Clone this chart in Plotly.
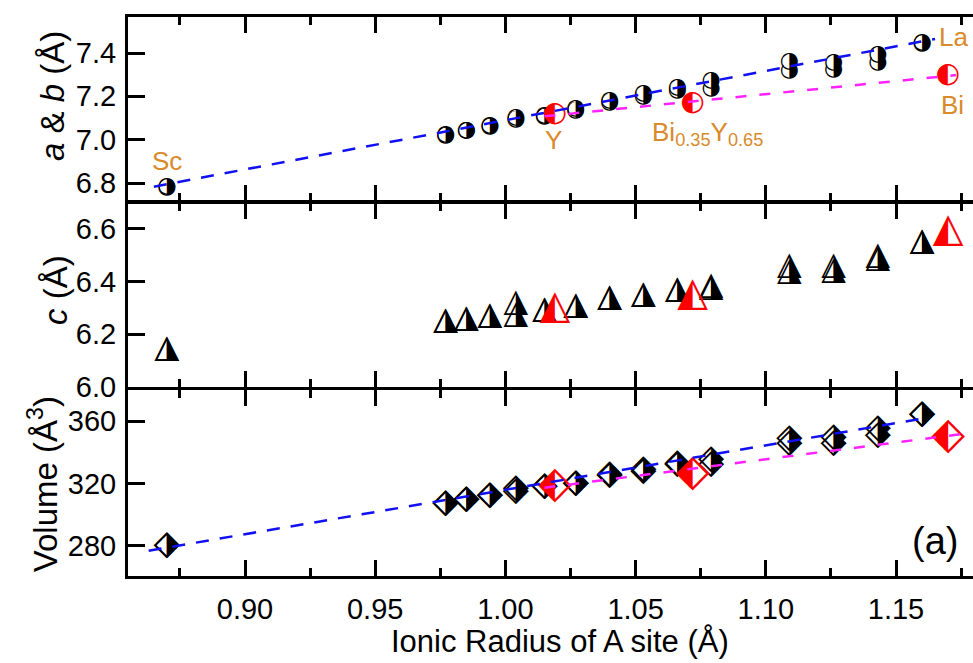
import plotly.graph_objects as go
from plotly.subplots import make_subplots

# ---------------- data ----------------
radius = [0.870, 0.977, 0.985, 0.994, 1.004, 1.015, 1.027, 1.040, 1.053, 1.066, 1.079, 1.109, 1.126, 1.143, 1.160]
a_param = [6.785, 7.023, 7.043, 7.064, 7.100, 7.110, 7.142, 7.180, 7.215, 7.240, 7.272, 7.360, 7.355, 7.395, 7.450]
b_param = [6.780, 7.020, 7.040, 7.060, 7.093, 7.106, 7.133, 7.172, 7.200, 7.226, 7.236, 7.320, 7.322, 7.355, 7.446]
c_set1 = [6.144, 6.250, 6.258, 6.268, 6.317, 6.293, 6.307, 6.336, 6.348, 6.367, 6.382, 6.459, 6.459, 6.496, 6.550]
c_set2 = [6.144, 6.250, 6.258, 6.268, 6.274, 6.293, 6.307, 6.336, 6.348, 6.367, 6.376, 6.435, 6.440, 6.484, 6.550]
vol_set1 = [280.4, 307.2, 309.4, 312.0, 316.5, 318.0, 319.8, 325.9, 328.6, 332.9, 335.0, 349.0, 349.3, 355.3, 363.9]
vol_set2 = [280.4, 307.2, 309.4, 312.0, 314.5, 318.0, 319.8, 325.0, 327.5, 332.0, 331.8, 345.7, 345.5, 351.0, 363.9]

bi_radius = [1.019, 1.0719, 1.170]
bi_ab = [7.120, 7.170, 7.298]
bi_c = [6.299, 6.348, 6.593]
bi_vol = [318.0, 325.8, 350.0]

fit_ab_x = [0.865, 1.165]
fit_ab_y = [6.783, 7.465]
fit_ab_bi_x = [1.015, 1.173]
fit_ab_bi_y = [7.108, 7.298]
fit_vol_x = [0.863, 1.160]
fit_vol_y = [276.8, 361.5]
fit_vol_bi_x = [1.015, 1.1745]
fit_vol_bi_y = [317.2, 351.5]

x_ticks = [0.90, 0.95, 1.00, 1.05, 1.10, 1.15]
ab_ticks = [6.8, 7.0, 7.2, 7.4]
c_ticks = [6.0, 6.2, 6.4, 6.6]
vol_ticks = [280, 320, 360]

labels_text = ["Sc", "La", "Y", "Bi", "Bi<sub>0.35</sub>Y<sub>0.65</sub>"]
labels_x = [0.8699, 1.1719, 1.0184, 1.1718, 1.0776]
labels_y = [6.901, 7.474, 7.000, 7.160, 7.030]

# ---------------- style ----------------
FONT = "Arial, Liberation Sans, sans-serif"
GLYPH_FONT = "DejaVu Sans"
ORANGE = "#D98A2B"
BLUE = "#1010F0"
MAGENTA = "#FF22FF"
RED = "#FF0000"

fig = make_subplots(rows=3, cols=1, shared_xaxes=True, vertical_spacing=0)


def glyph_trace(x, y, glyph, size, color, row, bg_symbol=None, bg_size=None):
    if bg_symbol:
        fig.add_trace(go.Scatter(x=x, y=y, mode="markers",
                                 marker=dict(symbol=bg_symbol, size=bg_size, color="white", line=dict(width=0)),
                                 hoverinfo="skip", showlegend=False, cliponaxis=False), row=row, col=1)
    fig.add_trace(go.Scatter(x=x, y=y, mode="text", text=[glyph] * len(x), textposition="middle center",
                             textfont=dict(family=GLYPH_FONT, size=size, color=color),
                             hoverinfo="skip", showlegend=False, cliponaxis=False), row=row, col=1)


def fit_trace(x, y, color, dash, row):
    fig.add_trace(go.Scatter(x=x, y=y, mode="lines", line=dict(color=color, width=2.5, dash=dash),
                             hoverinfo="skip", showlegend=False), row=row, col=1)


# top panel: a & b
glyph_trace(radius, b_param, "\u25D1", 22, "black", 1, "circle", 14)
glyph_trace(radius, a_param, "\u25D1", 22, "black", 1, "circle", 14)
glyph_trace(bi_radius, bi_ab, "\u25D0", 28, RED, 1, "circle", 18)
fit_trace(fit_ab_x, fit_ab_y, BLUE, "13px,11px", 1)
fit_trace(fit_ab_bi_x, fit_ab_bi_y, MAGENTA, "11px,13px", 1)

# middle panel: c
glyph_trace(radius, c_set2, "\u25EE", 32, "black", 2)
glyph_trace(radius, c_set1, "\u25EE", 32, "black", 2)
glyph_trace(bi_radius, bi_c, "\u25ED", 40, RED, 2)

# bottom panel: volume
glyph_trace(radius, vol_set2, "\u2B17", 34, "black", 3)
glyph_trace(radius, vol_set1, "\u2B17", 34, "black", 3)
glyph_trace(bi_radius, bi_vol, "\u2B16", 44, RED, 3)
fit_trace(fit_vol_x, fit_vol_y, BLUE, "13px,11px", 3)
fit_trace(fit_vol_bi_x, fit_vol_bi_y, MAGENTA, "11px,13px", 3)

# ---------------- axes ----------------
axis_common = dict(showline=True, linecolor="black", linewidth=3, ticks="inside", tickcolor="black",
                   tickwidth=3, showgrid=False, zeroline=False,
                   tickfont=dict(family=FONT, size=29, color="black"))

for r in (1, 2, 3):
    fig.update_xaxes(range=[0.85507, 1.17957], tickvals=x_ticks, ticktext=[f"{v:.2f}" for v in x_ticks],
                     ticklen=16, mirror="ticks",
                     minor=dict(dtick=0.025, tick0=0.875, ticks="inside", ticklen=8, tickwidth=3, tickcolor="black"),
                     ticklabelstandoff=5,
                     row=r, col=1, **axis_common)

fig.update_yaxes(range=[6.7192, 7.5684], tickvals=ab_ticks, ticktext=[f"{v:.1f}" for v in ab_ticks],
                 ticklen=17, ticklabelstandoff=3, domain=[0.6705, 0.9973], row=1, col=1, **axis_common)
fig.update_yaxes(range=[5.9995, 6.6961], tickvals=c_ticks, ticktext=[f"{v:.1f}" for v in c_ticks],
                 ticklen=17, ticklabelstandoff=3, domain=[0.3393, 0.6652], row=2, col=1, **axis_common)
fig.update_yaxes(range=[260.25, 379.9], tickvals=vol_ticks, ticktext=[str(v) for v in vol_ticks],
                 ticklen=17, ticklabelstandoff=3, domain=[0.0027, 0.3339], row=3, col=1, **axis_common)

# ---------------- annotations ----------------
for t, lx, ly in zip(labels_text, labels_x, labels_y):
    fig.add_annotation(x=lx, y=ly, xref="x", yref="y", text=t, showarrow=False,
                       font=dict(family=FONT, size=26, color=ORANGE), xanchor="center", yanchor="middle")

fig.add_annotation(x=1.165, y=283.0, xref="x3", yref="y3", text="(a)", showarrow=False,
                   font=dict(family=FONT, size=38, color="black"), xanchor="center", yanchor="middle")

fig.add_annotation(x=0.511, y=-0.112, xref="paper", yref="paper", text="Ionic Radius of A site (Å)",
                   showarrow=False, font=dict(family=FONT, size=31, color="black"),
                   xanchor="center", yanchor="middle")
fig.add_annotation(x=-0.090, y=0.856, xref="paper", yref="paper", text="<i>a</i> & <i>b</i> (Å)",
                   textangle=-90, showarrow=False, font=dict(family=FONT, size=33, color="black"),
                   xanchor="center", yanchor="middle")
fig.add_annotation(x=-0.0864, y=0.5115, xref="paper", yref="paper", text="<i>c</i> (Å)",
                   textangle=-90, showarrow=False, font=dict(family=FONT, size=33, color="black"),
                   xanchor="center", yanchor="middle")
fig.add_annotation(x=-0.101, y=0.166, xref="paper", yref="paper", text="Volume (Å<sup>3</sup>)",
                   textangle=-90, showarrow=False, font=dict(family=FONT, size=33, color="black"),
                   xanchor="center", yanchor="middle")

fig.update_layout(width=973, height=663, margin=dict(l=128, r=0, t=15, b=85),
                  paper_bgcolor="white", plot_bgcolor="white", showlegend=False,
                  font=dict(family=FONT, color="black"))

fig.write_html("out.html")
